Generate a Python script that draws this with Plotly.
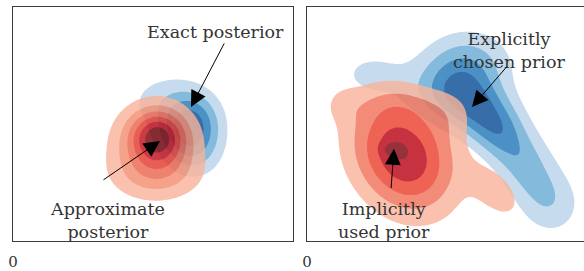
import numpy as np
import plotly.graph_objects as go

# ---------------- data ----------------
X_TICKS = [0]
X_TICK_TEXT = ["0"]

# Left panel, blue: exact posterior (mixture components: centre, spreads, angle, weight)
EXACT_CX = [4.4, 4.55, 3.45]
EXACT_CY = [3.0, 2.2, 3.7]
EXACT_SMAJ = [0.6, 0.5, 0.6]
EXACT_SMIN = [0.53, 0.5, 0.45]
EXACT_ANG = [90, 0, 30]
EXACT_W = [1.0, 0.25, 0.2]

# Left panel, red: approximate posterior
APPROX_CX = [3.625, 3.55, 3.6]
APPROX_CY = [2.7, 2.45, 1.65]
APPROX_SMAJ = [0.45, 0.75, 0.85]
APPROX_SMIN = [0.45, 0.75, 0.45]
APPROX_ANG = [0, 90, 0]
APPROX_W = [0.5, 0.4, 0.15]

# Right panel, blue: explicitly chosen prior
EXPL_CX = [1.6, 3.0, 4.05, 4.05, 4.8, 5.5, 6.1]
EXPL_CY = [4.3, 3.7, 3.6, 4.6, 2.8, 1.9, 0.95]
EXPL_SMAJ = [0.6, 0.8, 0.8, 0.75, 0.6, 0.65, 0.6]
EXPL_SMIN = [0.42, 0.5, 0.55, 0.6, 0.45, 0.5, 0.55]
EXPL_ANG = [0, -10, -35, 0, -55, -65, -75]
EXPL_W = [0.27, 0.2, 0.8, 0.5, 0.5, 0.45, 0.35]

# Right panel, red: implicitly used prior
IMPL_CX = [2.15, 2.4, 0.85, 2.5, 4.75, 3.6]
IMPL_CY = [2.36, 2.2, 3.55, 3.55, 1.25, 3.2]
IMPL_SMAJ = [0.18, 1.07, 0.35, 0.9, 0.6, 0.45]
IMPL_SMIN = [0.12, 0.83, 0.35, 0.35, 0.35, 0.45]
IMPL_ANG = [0, -60, 0, 0, -50, 0]
IMPL_W = [0.2, 0.8, 0.1, 0.12, 0.24, 0.12]

BLUE_BANDS = ["#c6dcee", "#84badc", "#4b91c6", "#376eaa"]
RED_BANDS_6 = ["#f9b49b", "#f48b6f", "#ec634a", "#e2372a", "#c00b18", "#760005"]
RED_BANDS_5 = ["#f9b49b", "#ef6f56", "#ea3d2a", "#ba0011", "#7c000b"]

# ---------------- figure ----------------
W, H = 584, 271
ML, MT, MB = 13, 7, 23
PW = W - ML
PX = 40.0  # pixels per data unit
P1_W = 280
P2_LEFT = 294
XR1 = P1_W / PX
XR2 = (PW - P2_LEFT) / PX
YR = (H - MT - MB) / PX

def density(X, Y, cx, cy, smaj, smin, ang, w):
    Z = np.zeros_like(X)
    for a, b, s1, s2, t, k in zip(cx, cy, smaj, smin, ang, w):
        r = np.radians(t)
        dx, dy = X - a, Y - b
        u = dx * np.cos(r) + dy * np.sin(r)
        v = -dx * np.sin(r) + dy * np.cos(r)
        Z += k * np.exp(-0.5 * ((u / s1) ** 2 + (v / s2) ** 2))
    return Z / Z.max()

def band_scale(colors):
    allc = ["rgba(255,255,255,0)"] + colors
    m = len(allc)
    cs = []
    for i, c in enumerate(allc):
        cs.append([i / m, c])
        cs.append([(i + 1) / m, c])
    return cs

def contour(xs, ys, Z, colors, opacity, xa, ya):
    n = len(colors)
    step = 1.0 / (n + 1)
    return go.Contour(
        x=xs, y=ys, z=Z, xaxis=xa, yaxis=ya,
        autocontour=False,
        contours=dict(start=step, end=n * step + 1e-9, size=step, coloring="fill"),
        colorscale=band_scale(colors), showscale=False,
        line=dict(width=0, smoothing=1.0), opacity=opacity, hoverinfo="skip",
    )

ys = np.linspace(0, YR, 161)
xs1 = np.linspace(0, XR1, 181)
xs2 = np.linspace(0, XR2, 181)
X1, Y1 = np.meshgrid(xs1, ys)
X2, Y2 = np.meshgrid(xs2, ys)

z_exact = density(X1, Y1, EXACT_CX, EXACT_CY, EXACT_SMAJ, EXACT_SMIN, EXACT_ANG, EXACT_W)
z_approx = density(X1, Y1, APPROX_CX, APPROX_CY, APPROX_SMAJ, APPROX_SMIN, APPROX_ANG, APPROX_W)
z_expl = density(X2, Y2, EXPL_CX, EXPL_CY, EXPL_SMAJ, EXPL_SMIN, EXPL_ANG, EXPL_W)
z_impl = density(X2, Y2, IMPL_CX, IMPL_CY, IMPL_SMAJ, IMPL_SMIN, IMPL_ANG, IMPL_W)

fig = go.Figure()
fig.add_trace(contour(xs1, ys, z_exact, BLUE_BANDS, 1.0, "x", "y"))
fig.add_trace(contour(xs1, ys, z_approx, RED_BANDS_6, 0.8, "x", "y"))
fig.add_trace(contour(xs2, ys, z_expl, BLUE_BANDS, 1.0, "x2", "y2"))
fig.add_trace(contour(xs2, ys, z_impl, RED_BANDS_5, 0.8, "x2", "y2"))

FONT = dict(family="DejaVu Serif", size=17.5, color="#333333")
TICKFONT = dict(family="DejaVu Serif", size=15, color="#333333")
LINE = "#3c3c3c"

axcommon = dict(showgrid=False, zeroline=False, showline=True, linecolor=LINE, linewidth=1)
fig.update_layout(
    width=W, height=H, margin=dict(l=ML, r=0, t=MT, b=MB),
    paper_bgcolor="white", plot_bgcolor="white", showlegend=False,
    xaxis=dict(domain=[0, P1_W / PW], range=[0, XR1], mirror=True,
               tickvals=X_TICKS, ticktext=X_TICK_TEXT, ticks="outside", ticklen=7,
               tickcolor="rgba(0,0,0,0)", tickfont=TICKFONT, **axcommon),
    yaxis=dict(domain=[0, 1], range=[0, YR], mirror=True, showticklabels=False, **axcommon),
    xaxis2=dict(domain=[P2_LEFT / PW, 1], range=[0, XR2], mirror=True, anchor="y2",
                tickvals=X_TICKS, ticktext=X_TICK_TEXT, ticks="outside", ticklen=7,
                tickcolor="rgba(0,0,0,0)", tickfont=TICKFONT, **axcommon),
    yaxis2=dict(domain=[0, 1], range=[0, YR], mirror=False, anchor="x2",
                showticklabels=False, **axcommon),
)

def label(xr, yr, x, y, text):
    fig.add_annotation(xref=xr, yref=yr, x=x, y=y, text=text, showarrow=False,
                       font=FONT, align="center")

def arrow(xr, yr, x, y, ax, ay):
    fig.add_annotation(xref=xr, yref=yr, axref=xr, ayref=yr, x=x, y=y, ax=ax, ay=ay,
                       text="", showarrow=True, arrowhead=2, arrowsize=3.2, arrowwidth=1,
                       arrowcolor="black", standoff=0, startstandoff=0)

label("x", "y", 5.05, 5.375, "Exact posterior")
arrow("x", "y", 4.45, 3.45, 5.3, 5.125)
label("x", "y", 2.35, 0.53, "Approximate<br>posterior")
arrow("x", "y", 3.675, 2.575, 2.225, 1.55)

label("x2", "y2", 5.05, 4.9, "Explicitly<br>chosen prior")
arrow("x2", "y2", 4.125, 3.45, 5.025, 4.525)
label("x2", "y2", 1.925, 0.53, "Implicitly<br>used prior")
arrow("x2", "y2", 2.175, 2.375, 2.1, 1.325)

fig.write_html("out.html", post_script="document.body.style.margin='0';",
               config={"displayModeBar": False})
